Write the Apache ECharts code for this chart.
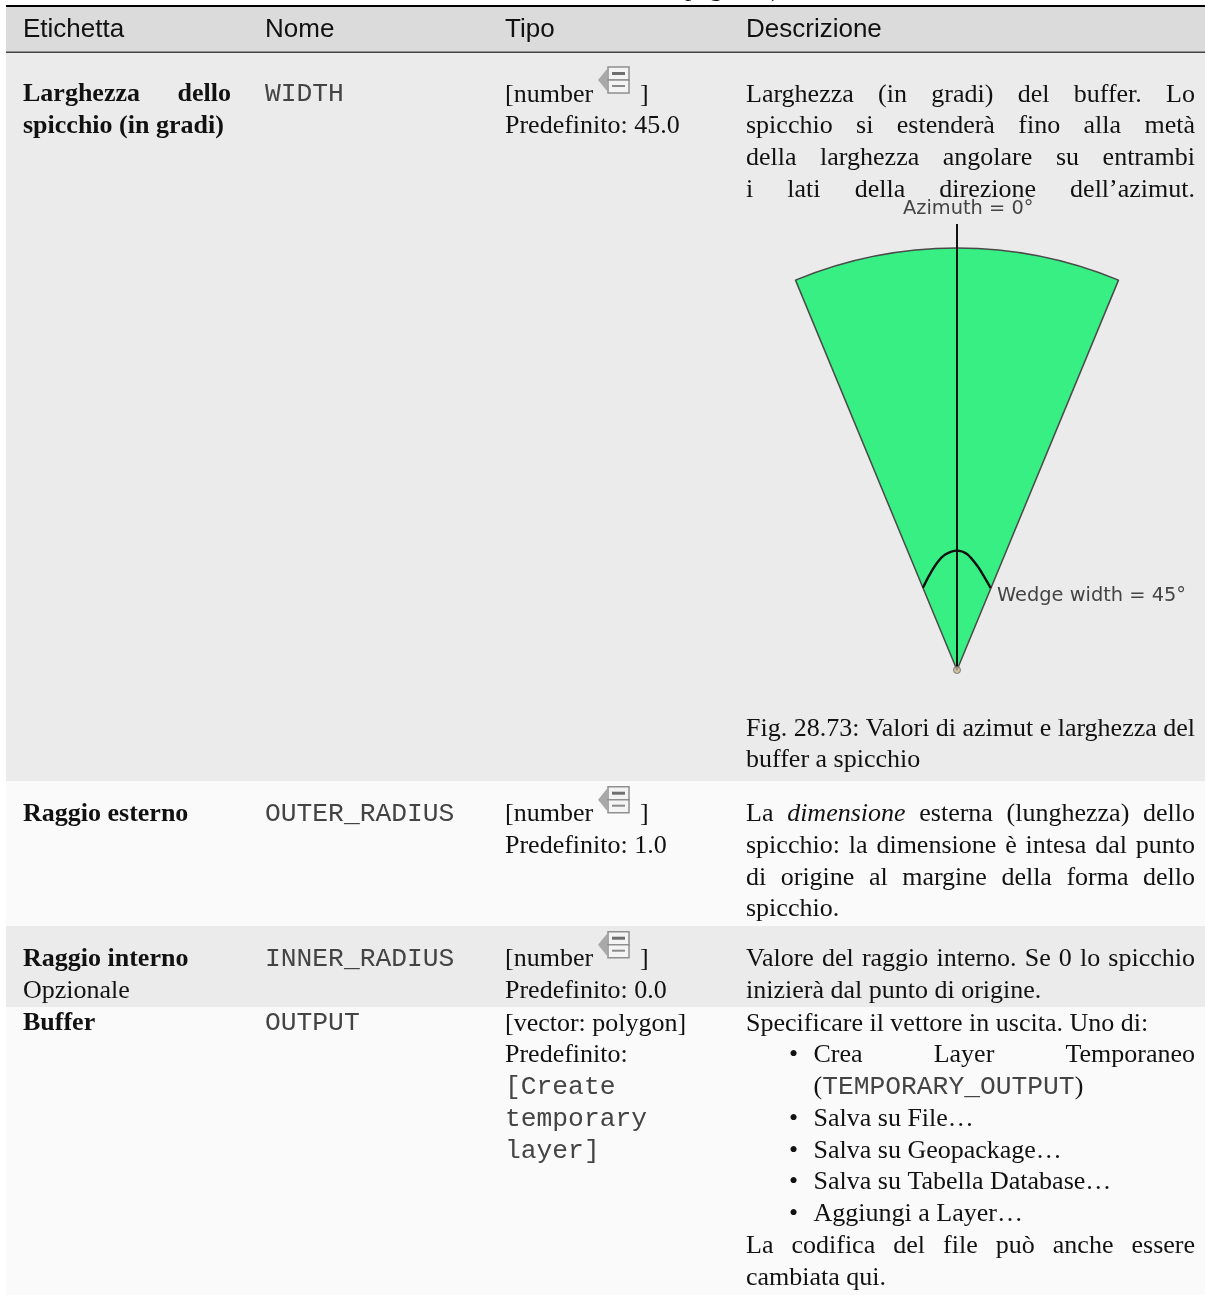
<!DOCTYPE html>
<html>
<head>
<meta charset="utf-8">
<title>Buffer a spicchio</title>
<script src="https://cdn.jsdelivr.net/npm/echarts@6/dist/echarts.min.js"></script>
<style>
html, body { margin: 0; padding: 0; background: #fff; }
#main { width: 1205px; height: 1295px; }
</style>
</head>
<body>
<div id="main"></div>
<script>
// table content
var headers = ['Etichetta', 'Nome', 'Tipo', 'Descrizione'];
var rowLabels = [['Larghezza dello', 'spicchio (in gradi)'], ['Raggio esterno'], ['Raggio interno'], ['Buffer']];
var rowNames = ['WIDTH', 'OUTER_RADIUS', 'INNER_RADIUS', 'OUTPUT'];
var rowDefaults = ['Predefinito: 45.0', 'Predefinito: 1.0', 'Predefinito: 0.0'];
var descWidth = ['Larghezza (in gradi) del buffer. Lo', 'spicchio si estenderà fino alla metà', 'della larghezza angolare su entrambi', 'i lati della direzione dell’azimut.'];
var descCaption = ['Fig. 28.73: Valori di azimut e larghezza del', 'buffer a spicchio'];
var descOuter = ['La *dimensione* esterna (lunghezza) dello', 'spicchio: la dimensione è intesa dal punto', 'di origine al margine della forma dello', 'spicchio.'];
var descInner = ['Valore del raggio interno. Se 0 lo spicchio', 'inizierà dal punto di origine.'];
var outputTypes = ['[vector: polygon]', 'Predefinito:'];
var outputTypesMono = ['[Create', 'temporary', 'layer]'];
var outputIntro = 'Specificare il vettore in uscita. Uno di:';
var outputList = ['Crea Layer Temporaneo', null, 'Salva su File…', 'Salva su Geopackage…', 'Salva su Tabella Database…', 'Aggiungi a Layer…'];
var outputEnd = ['La codifica del file può anche essere', 'cambiata qui.'];

// wedge figure: degrees, radius as a share of the outer radius
var wedgeSlices = [45, 315];
var azimuthRadius = [0, 1.057];
var azimuthAngle = [0, 0];
var arcAngle = [-22.5, -16.8, -10.6, -5.8, 0, 4.9, 10.9, 16.8, 22.3];
var arcRadius = [0.211, 0.232, 0.258, 0.275, 0.283, 0.276, 0.252, 0.228, 0.210];

// page layout
var bandTop = [7, 52, 781, 926, 1007];
var bandBottom = [52, 781, 926, 1007, 1295];
var bandColor = ['#dbdbdb', '#ebebeb', '#fafafa', '#ebebeb', '#fafafa'];
var colX = [23, 265, 505, 746];
var lineH = 31.75;
var serif = '26px "Liberation Serif"';
var serifBold = 'bold 26px "Liberation Serif"';
var serifItalic = 'italic 26px "Liberation Serif"';
var mono = '26.3px "Liberation Mono"';
var sans = '26px "Liberation Sans"';
var monoColor = '#444';
var baseShift = 6.3;

var ctx = document.createElement('canvas').getContext('2d');
function textWidth(str, font) {
    ctx.font = font;
    return ctx.measureText(str).width;
}

var items = [];
function addText(str, x, baseline, font, color) {
    items.push({
        type: 'text',
        x: x,
        y: baseline - baseShift,
        z: 10,
        silent: true,
        style: { text: str, font: font, fill: color || '#111', textAlign: 'left', textVerticalAlign: 'middle' }
    });
}

// one line spread out word by word between x0 and x1, *word* is italic
function addJustified(str, x0, x1, baseline, font) {
    var words = str.split(' ');
    var fonts = [], widths = [], total = 0, i;
    for (i = 0; i < words.length; i++) {
        fonts.push(words[i].charAt(0) == '*' ? serifItalic : font);
        words[i] = words[i].replace(/\*/g, '');
        widths.push(textWidth(words[i], fonts[i]));
        total += widths[i];
    }
    var gap = (x1 - x0 - total) / (words.length - 1);
    var x = x0;
    for (i = 0; i < words.length; i++) {
        addText(words[i], x, baseline, fonts[i]);
        x += widths[i] + gap;
    }
}

function addParagraph(lines, x0, x1, baseline, justifyLast) {
    for (var i = 0; i < lines.length; i++) {
        if (i < lines.length - 1 || justifyLast) {
            addJustified(lines[i], x0, x1, baseline + i * lineH, serif);
        } else {
            addText(lines[i], x0, baseline + i * lineH, serif);
        }
    }
}

// the little grey icon next to [number
function addIcon(top) {
    var grey = '#8f8f8f';
    items.push({ type: 'polygon', z: 10, silent: true, shape: { points: [[607, top + 2], [607, top + 24], [598, top + 13]] }, style: { fill: '#a9a9a9' } });
    items.push({ type: 'rect', z: 11, silent: true, shape: { x: 608, y: top, width: 21, height: 13 }, style: { fill: '#f4f4f4', stroke: grey, lineWidth: 1.5 } });
    items.push({ type: 'rect', z: 11, silent: true, shape: { x: 608, y: top + 13, width: 21, height: 13 }, style: { fill: '#f4f4f4', stroke: grey, lineWidth: 1.5 } });
    items.push({ type: 'rect', z: 12, silent: true, shape: { x: 612, y: top + 5, width: 13, height: 3 }, style: { fill: '#6f6f6f' } });
    items.push({ type: 'rect', z: 12, silent: true, shape: { x: 612, y: top + 18, width: 13, height: 2 }, style: { fill: '#8a8a8a' } });
}

var i;
for (i = 0; i < headers.length; i++) {
    addText(headers[i], colX[i], 36.5, sans);
}

// running head cut off by the page top, only the descenders show
addText('pagina', 685, -4.5, serif);
addText(')', 771, -4.5, serif);

var rowBase = [101, 820.7, 965.7, 1030];

// first column
addJustified(rowLabels[0][0], colX[0], 231, rowBase[0], serifBold);
addText(rowLabels[0][1], colX[0], rowBase[0] + lineH, serifBold);
addText(rowLabels[1][0], colX[0], rowBase[1], serifBold);
addText(rowLabels[2][0], colX[0], rowBase[2], serifBold);
addText('Opzionale', colX[0], rowBase[2] + lineH, serif);
addText(rowLabels[3][0], colX[0], rowBase[3], serifBold);

// name and type columns
for (i = 0; i < rowNames.length; i++) {
    addText(rowNames[i], colX[1], rowBase[i] - 0.7, mono, monoColor);
}
for (i = 0; i < rowDefaults.length; i++) {
    addText('[number', colX[2], rowBase[i], serif);
    addText(']', 640, rowBase[i], serif);
    addIcon(rowBase[i] - 34);
    addText(rowDefaults[i], colX[2], rowBase[i] + lineH, serif);
}
for (i = 0; i < outputTypes.length; i++) {
    addText(outputTypes[i], colX[2], rowBase[3] + i * lineH, serif);
}
for (i = 0; i < outputTypesMono.length; i++) {
    addText(outputTypesMono[i], colX[2], rowBase[3] + (i + 2) * lineH, mono, monoColor);
}

// description column
addParagraph(descWidth, colX[3], 1195, rowBase[0], true);
addParagraph(descCaption, colX[3], 1195, 735);
addParagraph(descOuter, colX[3], 1195, rowBase[1]);
addParagraph(descInner, colX[3], 1195, rowBase[2]);

addText(outputIntro, colX[3], rowBase[3], serif);
var listX = 813.5, bulletX = 789;
for (i = 0; i < outputList.length; i++) {
    var y = rowBase[3] + (i + 1) * lineH;
    if (outputList[i] === null) {
        var px = listX;
        addText('(', px, y, serif);
        px += textWidth('(', serif);
        addText('TEMPORARY_OUTPUT', px, y, mono, monoColor);
        px += textWidth('TEMPORARY_OUTPUT', mono);
        addText(')', px, y, serif);
        continue;
    }
    addText('•', bulletX, y, serif);
    if (i == 0) {
        addJustified(outputList[i], listX, 1195, y, serif);
    } else {
        addText(outputList[i], listX, y, serif);
    }
}
addParagraph(outputEnd, colX[3], 1195, rowBase[3] + 7 * lineH);

// labels baked into the original figure
addText('Azimuth = 0°', 903, 215.5, '19.4px "DejaVu Sans"', '#444');
addText('Wedge width = 45°', 997, 602.5, '19.4px "DejaVu Sans"', '#444');

var bandData = [];
for (i = 0; i < bandTop.length; i++) {
    bandData.push([bandTop[i], bandBottom[i]]);
}

function renderBand(params, api) {
    var a = api.coord([6, api.value(0)]);
    var b = api.coord([1205, api.value(1)]);
    return {
        type: 'rect',
        shape: { x: a[0], y: a[1], width: b[0] - a[0], height: b[1] - a[1] },
        style: { fill: bandColor[params.dataIndex] }
    };
}

function renderRule(params, api) {
    var a = api.coord([6, api.value(0)]);
    var b = api.coord([1205, api.value(1)]);
    return {
        type: 'rect',
        shape: { x: a[0], y: a[1], width: b[0] - a[0], height: b[1] - a[1] },
        style: { fill: params.dataIndex == 0 ? '#000' : '#444' }
    };
}

var myChart = echarts.init(document.getElementById('main'));
var option = {
    animation: false,
    backgroundColor: '#fff',
    grid: { left: 0, right: 0, top: 0, bottom: 0 },
    xAxis: { type: 'value', min: 0, max: 1205, show: false },
    yAxis: { type: 'value', min: 0, max: 1295, inverse: true, show: false },
    polar: { center: [957, 670], radius: 446 },
    radiusAxis: { type: 'value', min: 0, max: 1.057, show: false },
    angleAxis: { type: 'value', min: -180, max: 180, startAngle: 270, show: false },
    graphic: { elements: items },
    series: [
        {
            type: 'custom',
            coordinateSystem: 'cartesian2d',
            z: 0,
            silent: true,
            renderItem: renderBand,
            encode: { x: -1, y: [0, 1] },
            data: bandData
        },
        {
            type: 'custom',
            coordinateSystem: 'cartesian2d',
            z: 1,
            silent: true,
            renderItem: renderRule,
            encode: { x: -1, y: [0, 1] },
            data: [[5, 7], [51.5, 53]]
        },
        {
            type: 'pie',
            z: 2,
            silent: true,
            center: [957, 670],
            radius: [0, 422],
            startAngle: 112.5,
            clockwise: true,
            label: { show: false },
            labelLine: { show: false },
            data: [
                { value: wedgeSlices[0], itemStyle: { color: '#37ef82', borderColor: '#4a4a4a', borderWidth: 1.5 } },
                { value: wedgeSlices[1], itemStyle: { color: 'rgba(0,0,0,0)' } }
            ]
        },
        {
            type: 'line',
            coordinateSystem: 'polar',
            z: 3,
            silent: true,
            symbol: 'none',
            lineStyle: { color: '#111', width: 2 },
            data: azimuthRadius.map(function (r, k) { return [r, azimuthAngle[k]]; })
        },
        {
            type: 'line',
            coordinateSystem: 'polar',
            z: 3,
            silent: true,
            smooth: 0.3,
            symbol: 'none',
            lineStyle: { color: '#111', width: 2.4 },
            data: arcRadius.map(function (r, k) { return [r, arcAngle[k]]; })
        },
        {
            type: 'scatter',
            coordinateSystem: 'polar',
            z: 4,
            silent: true,
            symbolSize: 7,
            itemStyle: { color: '#c8b890', borderColor: '#666', borderWidth: 1 },
            data: [[0, 0]]
        }
    ]
};
myChart.setOption(option);
</script>
</body>
</html>
